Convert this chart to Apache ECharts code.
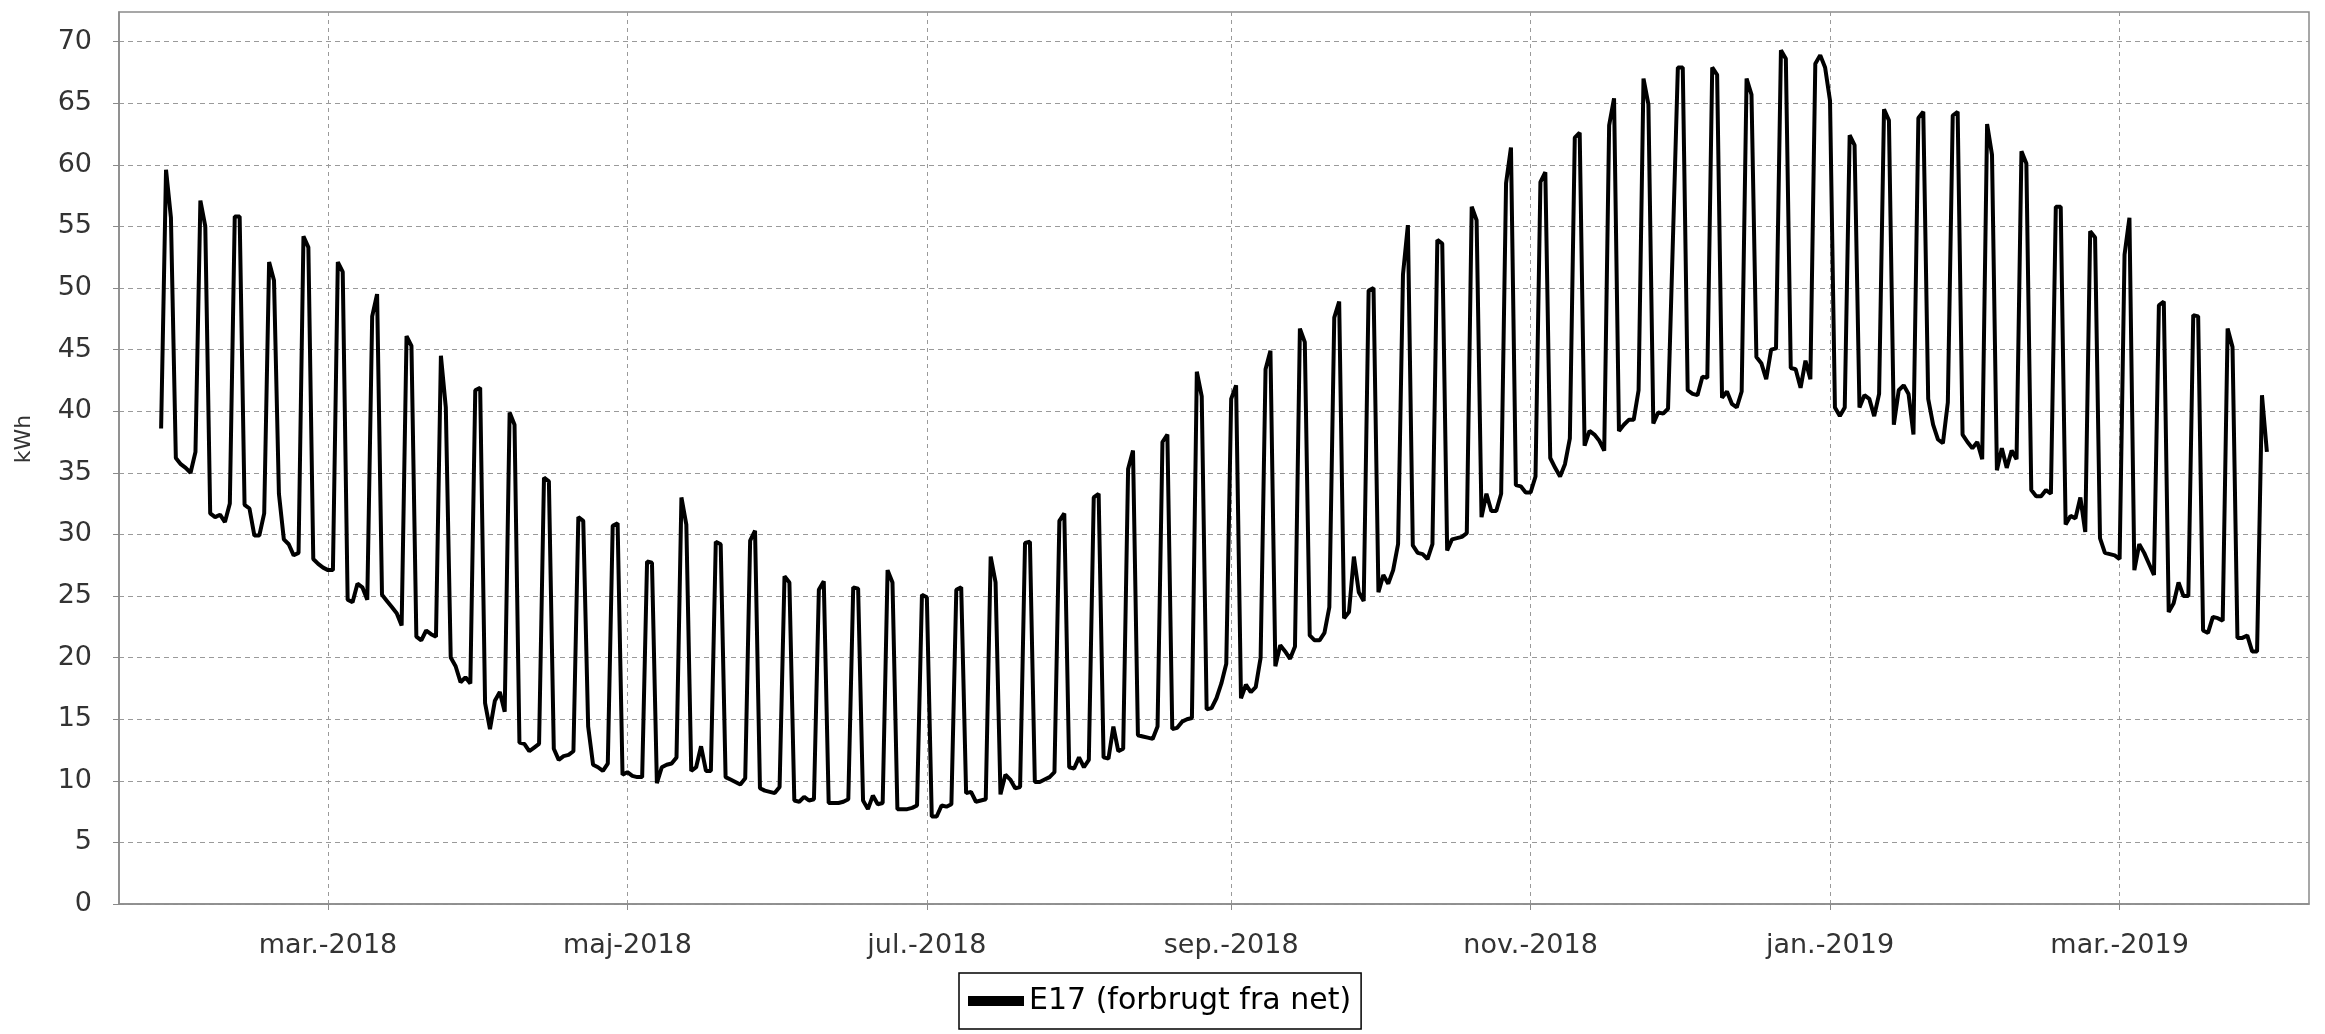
<!DOCTYPE html>
<html><head><meta charset="utf-8">
<script src="https://cdn.jsdelivr.net/npm/echarts@6/dist/echarts.min.js"></script>
<style>html,body{margin:0;padding:0;background:#fff}#c{width:2325px;height:1034px}</style>
</head><body><div id="c"></div>
<script>
const seriesName = 'E17 (forbrugt fra net)';
const yAxisName = 'kWh';
const startDate = [2018, 0, 26]; // first daily value: Fri 26 Jan 2018
// daily values (kWh), one line per week Sat..Fri after the first day
const values = [
38.6,
59.6,55.7,36.2,35.7,35.4,35.0,36.7,
57.1,55.0,31.7,31.4,31.6,31.0,32.5,
55.8,55.8,32.4,32.1,29.9,29.9,31.7,
52.1,50.6,33.3,29.6,29.2,28.3,28.5,
54.2,53.3,28.0,27.6,27.3,27.1,27.1,
52.1,51.3,24.7,24.5,26.0,25.7,24.7,
47.7,49.5,25.1,24.6,24.1,23.6,22.6,
46.1,45.3,21.7,21.4,22.2,21.9,21.7,
44.5,40.3,20.0,19.3,18.0,18.4,17.9,
41.7,41.9,16.3,14.2,16.5,17.2,15.6,
39.9,38.9,13.1,13.0,12.4,12.7,13.0,
34.6,34.3,12.6,11.7,12.0,12.1,12.4,
31.4,31.1,14.4,11.3,11.1,10.8,11.4,
30.7,30.9,10.5,10.7,10.4,10.3,10.3,
27.8,27.7,9.8,11.1,11.3,11.4,11.9,
33.0,30.8,10.8,11.1,12.8,10.8,10.8,
29.4,29.2,10.3,10.1,9.9,9.7,10.2,
29.5,30.3,9.4,9.2,9.1,9.0,9.5,
26.6,26.1,8.4,8.3,8.7,8.4,8.5,
25.5,26.2,8.2,8.2,8.2,8.3,8.5,
25.7,25.6,8.4,7.7,8.8,8.1,8.2,
27.1,26.1,7.7,7.7,7.7,7.8,8.0,
25.1,24.9,7.1,7.1,8.0,7.9,8.1,
25.5,25.7,9.0,9.1,8.3,8.4,8.5,
28.2,26.1,8.9,10.5,10.1,9.4,9.5,
29.3,29.4,9.9,9.9,10.1,10.3,10.7,
31.1,31.7,11.1,11.0,11.9,11.1,11.7,
33.0,33.3,11.9,11.8,14.4,12.4,12.6,
35.3,36.8,13.7,13.6,13.5,13.4,14.4,
37.5,38.1,14.2,14.3,14.8,15.0,15.1,
43.2,41.2,15.8,15.9,16.7,17.9,19.5,
41.0,42.1,16.7,17.8,17.2,17.6,20.0,
43.4,44.9,19.3,21.0,20.5,19.9,20.9,
46.7,45.6,21.8,21.4,21.4,22.0,24.1,
47.6,48.9,23.2,23.7,28.2,25.3,24.6,
49.8,50.0,25.3,26.7,26.0,27.1,29.2,
51.1,55.1,29.1,28.5,28.4,28.0,29.2,
53.9,53.6,28.7,29.6,29.7,29.8,30.1,
56.6,55.5,31.4,33.3,31.9,31.9,33.3,
58.5,61.4,34.0,33.9,33.4,33.4,34.7,
58.6,59.4,36.2,35.4,34.7,35.7,37.8,
62.2,62.6,37.2,38.4,38.1,37.6,36.8,
63.2,65.4,38.4,38.9,39.3,39.3,41.7,
67.0,64.9,39.0,39.9,39.8,40.2,54.0,
67.9,67.9,41.7,41.4,41.3,42.8,42.7,
67.9,67.3,41.1,41.6,40.6,40.3,41.6,
67.0,65.7,44.4,43.9,42.6,45.0,45.1,
69.3,68.6,43.5,43.4,41.9,44.1,42.6,
68.2,68.9,67.9,65.2,40.3,39.6,40.3,
62.4,61.6,40.3,41.3,41.0,39.6,41.4,
64.5,63.6,38.9,41.7,42.1,41.4,38.1,
63.8,64.3,41.0,38.9,37.7,37.4,40.7,
64.0,64.3,38.1,37.5,37.0,37.5,36.1,
63.3,60.8,35.2,37.0,35.4,36.8,36.1,
61.1,60.1,33.6,33.1,33.1,33.6,33.3,
56.6,56.6,30.8,31.5,31.3,33.0,30.2,
54.6,54.1,29.7,28.5,28.4,28.3,28.0,
52.7,55.7,27.1,29.2,28.5,27.6,26.7,
48.6,48.9,23.7,24.4,26.1,25.0,25.0,
47.8,47.7,22.2,22.0,23.3,23.2,23.0,
46.7,45.2,21.6,21.6,21.8,20.5,20.5,
41.3,36.7
];
const xTickDates = [[2018,2,1],[2018,4,1],[2018,6,1],[2018,8,1],[2018,10,1],[2019,0,1],[2019,2,1]];
const xTickLabels = ['mar.-2018','maj-2018','jul.-2018','sep.-2018','nov.-2018','jan.-2019','mar.-2019'];
const yTicks = [0,5,10,15,20,25,30,35,40,45,50,55,60,65,70];

const DAY = 86400000;
const t0 = Date.UTC(startDate[0], startDate[1], startDate[2]);
const seriesData = values.map((v, i) => [t0 + i * DAY, v]);
const tickVals = xTickDates.map(d => Date.UTC(d[0], d[1], d[2]));
const span = (values.length - 1) * DAY;
const xMin = t0 - span * 0.02;
const xMax = t0 + span * 1.02;
const FONT = 'DejaVu Sans';

const chart = echarts.init(document.getElementById('c'), null, {renderer: 'canvas'});
chart.setOption({
  animation: false,
  backgroundColor: '#ffffff',
  grid: {left: 119, right: 16, top: 12, bottom: 130, show: true, borderColor: '#8a8a8a', borderWidth: 1.5, backgroundColor: '#ffffff'},
  xAxis: {
    type: 'value', min: xMin, max: xMax,
    axisLine: {show: true, lineStyle: {color: '#8a8a8a', width: 1.5}},
    axisTick: {show: true, customValues: tickVals, length: 6, lineStyle: {color: '#8a8a8a'}},
    axisLabel: {customValues: tickVals, margin: 28, fontSize: 27, color: '#333', fontFamily: FONT,
      formatter: v => { const i = tickVals.indexOf(v); return i >= 0 ? xTickLabels[i] : ''; }},
    splitLine: {show: true, lineStyle: {color: '#9a9a9a', width: 1, type: [4, 4]}}
  },
  yAxis: {
    type: 'value', min: 0, max: 72.4, interval: 5,
    name: yAxisName, nameLocation: 'middle', nameGap: 84,
    nameTextStyle: {fontSize: 22, color: '#333', fontFamily: FONT, padding: [0, 0, 0, 38]},
    axisLine: {show: true, lineStyle: {color: '#8a8a8a', width: 1.5}},
    axisTick: {show: true, customValues: yTicks, length: 6, lineStyle: {color: '#8a8a8a'}},
    axisLabel: {customValues: yTicks, margin: 27, fontSize: 27, color: '#333', fontFamily: FONT},
    splitLine: {show: true, lineStyle: {color: '#9a9a9a', width: 1, type: [5, 4]}}
  },
  legend: {
    left: 959, top: 973, icon: 'rect', itemWidth: 56, itemHeight: 10, itemGap: 8,
    borderColor: '#000', borderWidth: 1.5, padding: [13, 10, 13, 9],
    textStyle: {fontSize: 30, color: '#000', fontFamily: FONT},
    data: [{name: seriesName, itemStyle: {color: '#000'}}]
  },
  series: [{
    name: seriesName, type: 'line', data: seriesData, showSymbol: false,
    lineStyle: {color: '#000', width: 4}, itemStyle: {color: '#000'}
  }]
});
</script></body></html>
